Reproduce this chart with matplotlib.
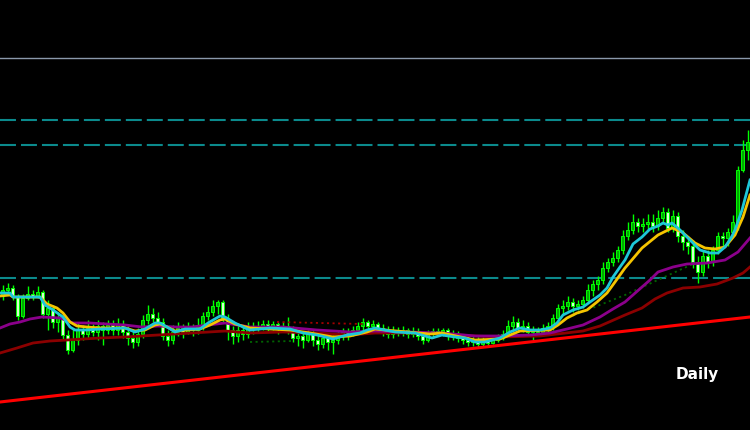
import numpy as np
import matplotlib.pyplot as plt

plt.rcParams['lines.scale_dashes'] = False

# === DATA (price level, higher = up) ===
opens = [134, 140, 142, 134, 114, 132, 136, 134, 138, 116,
         122, 108, 112, 95, 80, 90, 100, 96, 102, 98,
         104, 100, 105, 100, 106, 98, 92, 88, 96, 110,
         116, 112, 108, 94, 90, 98, 102, 98, 102, 100,
         104, 114, 118, 124, 128, 112, 100, 94, 100, 96,
         102, 104, 102, 106, 103, 106, 102, 104, 100, 92,
         94, 90, 96, 90, 86, 92, 88, 90, 94, 98,
         96, 100, 104, 108, 104, 106, 102, 100, 96, 100,
         98, 100, 96, 99, 94, 90, 96, 99, 97, 100,
         94, 96, 92, 90, 88, 90, 86, 89, 87, 90,
         92, 96, 104, 108, 102, 104, 98, 100, 98, 102,
         104, 112, 122, 124, 128, 124, 126, 130, 140, 146,
         150, 162, 168, 172, 180, 194, 200, 208, 204, 206,
         208, 204, 212, 218, 202, 214, 194, 188, 184, 168,
         158, 174, 168, 180, 194, 192, 198, 204, 260, 280]
closes = [140, 142, 134, 114, 132, 136, 134, 138, 116, 122,
          108, 112, 95, 80, 90, 100, 96, 102, 98, 104,
          100, 105, 100, 106, 98, 92, 88, 96, 110, 116,
          112, 108, 94, 90, 98, 102, 98, 102, 100, 104,
          114, 118, 124, 128, 112, 100, 94, 100, 96, 102,
          104, 102, 106, 103, 106, 102, 104, 100, 92, 94,
          90, 96, 90, 86, 92, 88, 90, 94, 98, 96,
          100, 104, 108, 104, 106, 102, 100, 96, 100, 98,
          100, 96, 99, 94, 90, 96, 99, 97, 100, 94,
          96, 92, 90, 88, 90, 86, 89, 87, 90, 92,
          96, 104, 108, 102, 104, 98, 100, 98, 102, 104,
          112, 122, 124, 128, 124, 126, 130, 140, 146, 150,
          162, 168, 172, 180, 194, 200, 208, 204, 206, 208,
          204, 212, 218, 202, 214, 194, 188, 184, 168, 158,
          174, 168, 180, 194, 192, 198, 208, 260, 280, 288]
highs = [145, 147, 145, 136, 136, 144, 140, 144, 140, 130,
         125, 118, 115, 100, 102, 108, 105, 110, 106, 110,
         108, 110, 110, 112, 110, 104, 100, 102, 115, 125,
         122, 118, 112, 100, 105, 108, 106, 108, 106, 112,
         118, 124, 130, 130, 130, 116, 104, 104, 105, 108,
         108, 109, 110, 110, 109, 108, 108, 113, 104, 100,
         97, 100, 100, 96, 96, 96, 95, 98, 102, 102,
         104, 108, 112, 110, 110, 108, 106, 104, 104, 103,
         104, 102, 103, 102, 98, 100, 102, 102, 102, 102,
         100, 99, 96, 94, 94, 94, 93, 92, 94, 96,
         100, 110, 114, 112, 110, 108, 104, 103, 106, 108,
         116, 126, 130, 134, 132, 130, 134, 146, 150, 154,
         168, 172, 178, 184, 200, 208, 216, 212, 212, 216,
         216, 220, 223, 222, 220, 218, 200, 194, 190, 174,
         180, 180, 184, 198, 198, 202, 215, 264, 290, 300]
lows = [130, 136, 130, 110, 112, 130, 130, 132, 112, 100,
        102, 98, 90, 76, 78, 85, 90, 92, 94, 90,
        85, 96, 95, 95, 92, 85, 82, 84, 92, 106,
        108, 104, 90, 84, 86, 94, 92, 96, 94, 96,
        100, 110, 114, 116, 108, 90, 86, 88, 90, 92,
        96, 98, 100, 98, 100, 96, 98, 96, 88, 84,
        82, 88, 84, 80, 82, 80, 76, 86, 90, 90,
        94, 98, 100, 100, 100, 98, 94, 92, 92, 94,
        94, 92, 93, 90, 86, 88, 92, 94, 94, 90,
        90, 88, 86, 84, 84, 83, 84, 84, 86, 88,
        90, 94, 100, 98, 98, 94, 90, 94, 96, 98,
        100, 108, 116, 120, 118, 120, 122, 128, 134, 140,
        146, 158, 164, 168, 176, 190, 196, 198, 198, 200,
        198, 200, 208, 198, 198, 188, 180, 176, 162, 147,
        154, 162, 164, 176, 184, 184, 194, 200, 258, 270]

# moving averages (bar position, level)
fast_x = [0, 2, 2.6, 8, 9, 10.6, 12.6, 14, 15, 17.4, 20, 25, 27, 29, 31, 32, 33.4, 35, 37, 40,
          41.6, 44, 45, 47, 49, 50, 54, 58, 60.6, 63.4, 66.6, 69.4, 72, 73.4, 75, 77, 79, 83,
          86.4, 88.4, 91, 93, 95, 97, 100, 102, 104, 106, 108, 110, 111.4, 112.6, 114.6, 116.6,
          118, 120, 121.4, 122.6, 124, 125, 126.6, 128.4, 130, 131.6, 132.6, 133.6, 134.4, 136,
          138, 140, 142, 143.6, 145, 146.2, 147, 148.4, 150]
fast_y = [137, 137, 133, 133, 125, 120, 113, 103, 100, 100, 101, 102, 98, 101, 107, 107, 103, 98, 101, 101,
          107, 114, 113, 107, 102, 100, 102, 101, 97, 95, 91, 95, 97, 100, 102, 100, 98, 97,
          92, 95, 93, 92, 88, 88, 92, 98, 102, 100, 100, 102, 107, 115, 120, 123,
          128, 135, 142, 153, 163, 170, 186, 193, 201, 204, 207, 205, 207, 200,
          190, 180, 177, 177, 183, 192, 200, 220, 250]
slow_x = [0, 2, 2.6, 8, 9.4, 11.4, 12.6, 14, 15.4, 17.4, 20, 25, 27, 29, 31, 32, 33.4, 35, 40, 42,
          44, 45, 47, 50, 58, 62, 66.6, 70, 73.4, 75, 77, 86, 88.4, 95, 100, 104, 110, 111.6,
          113.4, 115.4, 117.4, 119.4, 121.4, 123, 125, 128.4, 131.6, 134.4, 136.4, 139, 141, 143,
          145, 147, 148.6, 150]
slow_y = [134, 135, 133, 133, 126, 122, 117, 108, 104, 103, 102, 102, 99, 100, 105, 106, 103, 99, 101, 105,
          110, 111, 106, 102, 100, 97, 93, 94, 98, 101, 100, 96, 97, 90, 91, 99, 100, 105,
          112, 117, 120, 128, 137, 148, 162, 182, 195, 202, 198, 187, 182, 181,
          183, 195, 213, 235]
mid_x = [0, 2, 4, 6, 8.4, 12, 14.6, 18, 21.4, 25, 28.4, 31.6, 35, 38.4, 41.6, 45, 50, 56.6, 63.4, 70,
         75, 81.6, 88.4, 95, 100, 106, 110, 113.4, 116.6, 120, 122.6, 125, 128.4, 130, 131.6, 134.6,
         137.4, 141.4, 145, 147.6, 150]
mid_y = [102, 106, 108, 111, 113, 112, 107, 107, 106, 105, 103, 104, 103, 103, 105, 107, 103, 103, 100, 98,
         99, 98, 97, 94, 94, 95, 97, 101, 105, 113, 121, 128, 143, 150, 158, 163,
         166, 167, 170, 178, 192]
long_x = [0, 3.4, 6.6, 10, 13.4, 16.6, 20, 25, 31.6, 38.4, 45, 50, 56.6, 63.4, 70, 75, 81.6, 88.4, 95,
          100, 108, 116.6, 120, 125, 128.4, 131, 133.4, 136.6, 140, 143.4, 146.6, 148.6, 150]
long_y = [77, 82, 87, 89, 90, 91, 92, 93, 95, 97, 99, 97, 98, 97, 95, 97, 97, 96, 94,
          93, 94, 99, 104, 115, 122, 131, 137, 142, 143, 146, 152, 157, 163]

# dotted indicator segments
red_dot_x = [55.4, 72.6]
red_dot_y = [108, 106]
green_dot1_x = [50, 58.6]
green_dot1_y = [88, 89]
green_dot2_x = [110.6, 113.4, 125, 139]
green_dot2_y = [104, 112, 135, 167]

# horizontal levels and trendline
top_line = 372
dashed_levels = [310, 285, 152]
trend_x = [0, 150]
trend_y = [28, 113]

# === PLOT ===
fig = plt.figure(figsize=(7.5, 4.3), dpi=100, facecolor='black')
ax = fig.add_axes([0, 0, 1, 1])
ax.set_facecolor('black')
ax.set_xlim(0, 150)
ax.set_ylim(0, 430)
ax.axis('off')

ax.axhline(top_line, color='#8a98aa', lw=1.0, zorder=1)
for lvl in dashed_levels:
    ax.axhline(lvl, color='#0b8a8c', lw=1.5, dashes=(11.5, 3.6), zorder=1)

o = np.array(opens)
c = np.array(closes)
bars = np.arange(len(c)) + 0.5
up = c >= o

ax.vlines(bars, lows, highs, color='#00ff00', lw=1.0, zorder=2)
ax.bar(bars, np.abs(c - o), bottom=np.minimum(o, c), width=0.65,
       color=np.where(up, '#00a800', '#d8ffd0'), edgecolor='#00ff00',
       linewidth=0.7, zorder=3)

ax.plot(red_dot_x, red_dot_y, color='#a00000', lw=1.3, ls=(0, (1.5, 2.5)), zorder=4)
ax.plot(green_dot1_x, green_dot1_y, color='#006400', lw=1.3, ls=(0, (1.5, 2.5)), zorder=4)
ax.plot(green_dot2_x, green_dot2_y, color='#006400', lw=1.3, ls=(0, (1.5, 2.5)), zorder=4)

ax.plot(long_x, long_y, color='#8b0000', lw=2.0, zorder=5)
ax.plot(mid_x, mid_y, color='#8b008b', lw=2.0, zorder=5)
ax.plot(slow_x, slow_y, color='#f5c400', lw=2.0, zorder=6)
ax.plot(fast_x, fast_y, color='#1ec8d8', lw=2.0, zorder=7)

ax.plot(trend_x, trend_y, color='#ff0000', lw=2.2, zorder=8)

ax.text(0.901, 0.130, 'Daily', transform=ax.transAxes, color='white',
        fontsize=11, fontweight='bold', ha='left', va='center', zorder=9)

fig.savefig('out.png', dpi=100, facecolor='black')
